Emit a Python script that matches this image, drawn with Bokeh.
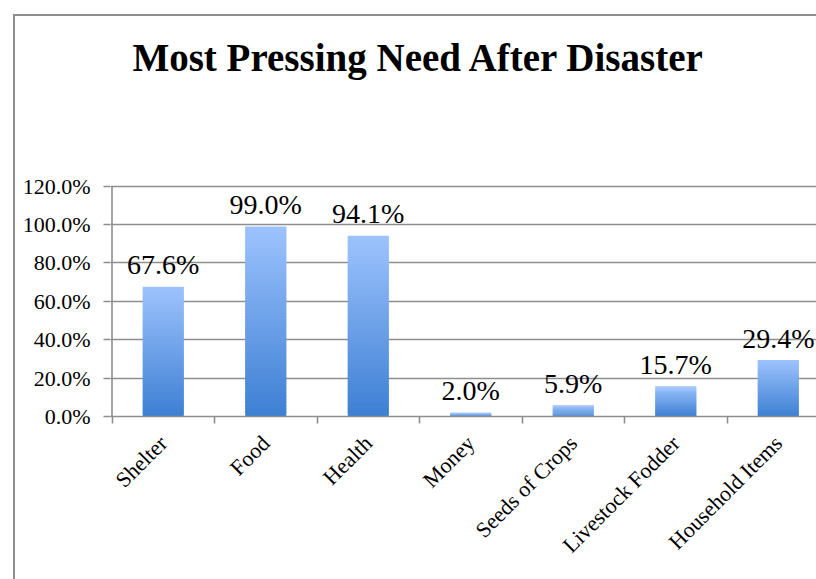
import math
from bokeh.plotting import figure
from bokeh.models import FixedTicker, ColumnDataSource, Label
from bokeh.embed import file_html
from bokeh.resources import INLINE
from bokeh.core.properties import value

# ---- data ----
title_text = "Most Pressing Need After Disaster"
categories = ["Shelter", "Food", "Health", "Money", "Seeds of Crops",
              "Livestock Fodder", "Household Items"]
values = [67.6, 99.0, 94.1, 2.0, 5.9, 15.7, 29.4]
value_labels = ["67.6%", "99.0%", "94.1%", "2.0%", "5.9%", "15.7%", "29.4%"]
y_ticks = [0, 20, 40, 60, 80, 100, 120]
y_tick_labels = ["0.0%", "20.0%", "40.0%", "60.0%", "80.0%", "100.0%", "120.0%"]

FONT = "Liberation Serif"
GRID = "#8e8e8e"
TOP_RGB = (0x9d, 0xc3, 0xfd)
BOT_RGB = (0x3d, 0x7f, 0xd3)

centers = [i + 0.5 for i in range(len(categories))]
y_max = y_ticks[-1]

# layout (pixels): plot area from x=111 to 816, value axis 0..120 from y=417 to 186
PX_PER_CAT = 102.0
PX_PER_UNIT = 231.0 / y_max
FRAME_TOP = 16
X0_PAD = 1.5 / PX_PER_CAT
y_top = (417 - FRAME_TOP) / PX_PER_UNIT

p = figure(width=803, height=565, output_backend="svg", toolbar_location=None,
           x_range=(-X0_PAD, (816 - 111) / PX_PER_CAT), y_range=(0, y_top),
           min_border_left=95, min_border_right=0, min_border_top=0,
           min_border_bottom=167, outline_line_color=None,
           background_fill_color="white", border_fill_color="white")
p.margin = (14, 0, 0, 13)
p.styles = {"border-left": "2px solid #8e8e8e", "border-top": "2px solid #8e8e8e",
            "box-sizing": "content-box"}

# title
p.add_layout(Label(x=(416.5 - 111) / PX_PER_CAT, y=y_max + (186 - 57) / PX_PER_UNIT,
                   text=title_text, text_align="center", text_baseline="alphabetic",
                   text_font=FONT, text_font_style="bold", text_font_size="39px",
                   text_color="black"))

# gradient bars: each bar split into slices, coloured dark (bottom) to light (top)
N = 60
bx, bb, bt, bc = [], [], [], []
for c, v in zip(centers, values):
    for k in range(N):
        f = (k + 0.5) / N
        rgb = tuple(int(round(BOT_RGB[j] + (TOP_RGB[j] - BOT_RGB[j]) * f)) for j in range(3))
        bx.append(c)
        bb.append(v * k / N)
        bt.append(min(v, v * (k + 1.8) / N))
        bc.append("#%02x%02x%02x" % rgb)
src = ColumnDataSource(dict(x=bx, bottom=bb, top=bt, color=bc))
p.vbar(x="x", bottom="bottom", top="top", width=0.4, fill_color="color",
       line_color=None, source=src)

lab_src = ColumnDataSource(dict(x=centers, y=values, t=value_labels))
p.text(x="x", y="y", text="t", source=lab_src, text_align="center",
       text_baseline="alphabetic", y_offset=-22, text_font=value(FONT),
       text_font_size="28px", text_color="black")

# value axis line (only over 0..120)
p.segment(x0=[0], y0=[0], x1=[0], y1=[y_max], line_color=GRID, line_width=1.6)

# y axis
p.yaxis.ticker = FixedTicker(ticks=y_ticks)
p.yaxis.major_label_overrides = {t: l for t, l in zip(y_ticks, y_tick_labels)}
p.yaxis.major_label_text_font = FONT
p.yaxis.major_label_text_font_size = "22px"
p.yaxis.major_label_text_color = "black"
p.yaxis.axis_line_color = None
p.yaxis.major_tick_line_color = GRID
p.yaxis.major_tick_line_width = 1.6
p.yaxis.major_tick_in = 0
p.yaxis.major_tick_out = 7
p.yaxis.minor_tick_line_color = None
p.yaxis.major_label_standoff = 13

# x axis: labels at centres, tick marks at category boundaries
p.xaxis.ticker = FixedTicker(ticks=centers, minor_ticks=list(range(len(categories) + 1)))
p.xaxis.major_label_overrides = {c: n for c, n in zip(centers, categories)}
p.xaxis.major_label_orientation = math.pi / 4
p.xaxis.major_label_text_font = FONT
p.xaxis.major_label_text_font_size = "22px"
p.xaxis.major_label_text_color = "black"
p.xaxis.axis_line_color = GRID
p.xaxis.axis_line_width = 1.6
p.xaxis.major_tick_line_color = None
p.xaxis.minor_tick_line_color = GRID
p.xaxis.minor_tick_line_width = 1.6
p.xaxis.minor_tick_in = 0
p.xaxis.minor_tick_out = 7
p.xaxis.major_label_standoff = 16

p.xgrid.grid_line_color = None
p.ygrid.grid_line_color = GRID
p.ygrid.grid_line_width = 1.6

open("out.html", "w").write(file_html(p, INLINE))
